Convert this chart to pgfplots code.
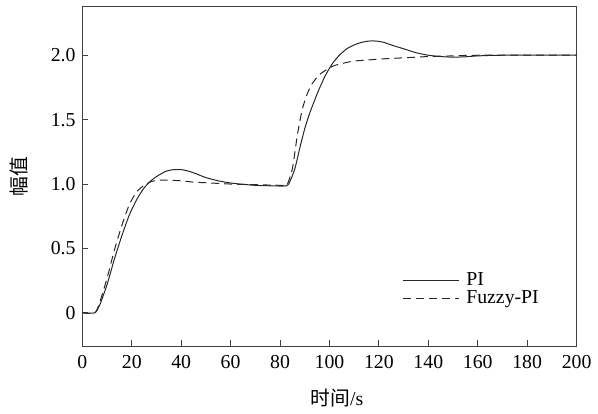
\documentclass[border=0pt]{standalone}
\usepackage{fontspec}
\setmainfont{Liberation Serif}
\newfontfamily\cjk{Noto Sans CJK SC}
\usepackage{pgfplots}
\pgfplotsset{compat=1.18}

\begin{document}
\fontsize{20}{23}\selectfont
\begin{tikzpicture}
\begin{axis}[
    scale only axis,
    width=498bp, height=342bp,
    xmin=0, xmax=200, ymin=-0.26, ymax=2.375,
    xtick={0,20,...,200},
    ytick={0,0.5,1,1.5,2},
    yticklabels={0,0.5,1.0,1.5,2.0},
    /pgf/number format/assume math mode=true,
    tick align=inside,
    xtick pos=bottom, ytick pos=left,
    major tick length=6bp,
    axis line style={line width=1.1bp, black!75},
    tick style={line width=1bp, black!75},
    tick label style={font=\fontsize{20}{23}\selectfont},
    xticklabel style={yshift=-2bp},
    label style={font=\fontsize{20}{23}\selectfont},
    xlabel={{\cjk 时间}/s},
    ylabel={\cjk 幅值},
    every axis x label/.style={at={(rel axis cs:0.515,0)}, anchor=north, yshift=-36bp},
    every axis y label/.style={at={(rel axis cs:0,0.5)}, anchor=south, rotate=90, yshift=48bp},
    legend style={draw=none, fill=none, at={(rel axis cs:0.648,0.225)}, anchor=north west,
        font=\fontsize{20}{23}\selectfont, row sep=-1bp, inner sep=0bp},
    legend cell align=left,
    legend image code/.code={\draw[#1] (0bp,0bp) -- (56bp,0bp); \path (61bp,0bp);},
]
\addplot[black!85, line width=1bp, smooth, tension=0.4] coordinates {
(0,0) (5,0) (7,0.06) (10,0.22) (13,0.42) (16,0.6) (19,0.76) (22,0.88) (25,0.97)
(28,1.03) (31,1.07) (34,1.10) (37,1.112) (40,1.112) (43,1.10) (46,1.08) (50,1.05)
(55,1.025) (60,1.008) (65,0.998) (70,0.99) (75,0.987) (82.5,0.986)
(84,1.02) (86,1.12) (88,1.28) (90,1.43) (92,1.55) (95,1.70) (98,1.83) (101,1.93)
(104,2.00) (107,2.05) (110,2.08) (113,2.10) (116,2.11) (119,2.11) (122,2.10)
(125,2.08) (130,2.05) (135,2.02) (140,2.0) (145,1.99) (150,1.985) (155,1.988)
(160,1.995) (170,2.0) (200,2.0)
};
\addlegendentry{PI}
\addplot[black!85, line width=1bp, dash pattern=on 8bp off 5bp, smooth, tension=0.4] coordinates {
(0,0) (5,0) (7,0.08) (10,0.27) (13,0.49) (16,0.68) (19,0.84) (22,0.94) (25,0.99)
(28,1.02) (31,1.03) (35,1.03) (40,1.025) (45,1.015) (50,1.01) (55,1.005) (60,1.0)
(70,0.995) (82,0.99) (83,1.0) (85,1.12) (87,1.38) (89,1.58) (91,1.70) (93,1.78)
(96,1.85) (99,1.89) (102,1.92) (106,1.94) (110,1.955) (115,1.962) (120,1.97)
(130,1.98) (140,1.99) (150,1.995) (160,2.0) (200,2.0)
};
\addlegendentry{Fuzzy-PI}
\end{axis}
\path ([shift={(-83bp,-63bp)}]current axis.south west) rectangle ([shift={(17bp,7bp)}]current axis.north east);
\end{tikzpicture}
\end{document}
